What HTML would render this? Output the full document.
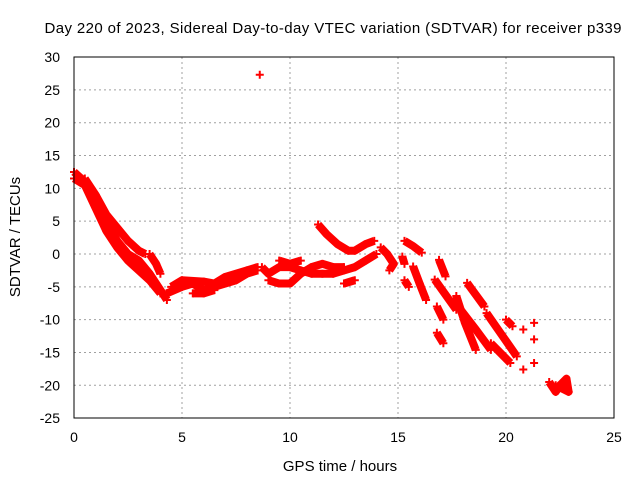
<!DOCTYPE html>
<html><head><meta charset="utf-8"><style>
body{margin:0;background:#fff;}
svg{display:block;font-family:"Liberation Sans",sans-serif;}
</style></head><body>
<svg id="chart" width="640" height="480">
<text x="333" y="33" font-size="15" text-anchor="middle" textLength="577">Day 220 of 2023, Sidereal Day-to-day VTEC variation (SDTVAR) for receiver p339</text>
<text x="340" y="471" font-size="15" text-anchor="middle">GPS time / hours</text>
<text transform="translate(20,237) rotate(-90)" font-size="15" text-anchor="middle">SDTVAR / TECUs</text>
<g id="grid"></g><g id="ticks"></g><g id="marks"></g>
<rect x="74" y="57" width="540" height="361" fill="none" stroke="#000" stroke-width="1"/>
</svg>
<script>
const xTicks=[0,5,10,15,20,25];
const yTicks=[30,25,20,15,10,5,0,-5,-10,-15,-20,-25];
const tracks=[
 [[0,12.5],[0.5,11],[1,8],[1.5,5],[2,2],[2.5,0],[3,-1],[3.5,-3],[4,-5.5],[4.3,-7]],
 [[0,11.5],[0.5,10.5],[1,7],[1.5,3.5],[2,1],[2.5,-1],[3,-2.5],[3.5,-4],[4,-6]],
 [[0.5,11.5],[1,9],[1.5,6],[2,4],[2.5,2],[3,0.5],[3.3,0]],
 [[3.5,0],[3.8,-1.5],[4,-3]],
 [[4.3,-6],[5,-5],[5.5,-4.5],[6,-5.5],[6.5,-5],[7,-4.5],[7.5,-4],[8,-3],[8.5,-2.5]],
 [[4.5,-5],[5,-4],[6,-4.2],[6.5,-4.5],[7,-3.5],[8,-2.5],[8.5,-2]],
 [[5.5,-6],[6,-6],[6.5,-5.5]],
 [[8.7,-2],[9,-3],[9.5,-2],[10,-2],[10.5,-2.5],[11,-3],[11.5,-3],[12,-3],[12.5,-2.5],[13,-2],[13.5,-1],[14,0]],
 [[9,-4],[9.5,-4.5],[10,-4.5],[10.5,-3],[11,-2],[11.5,-1.5],[12,-2],[12.5,-2]],
 [[9.5,-1],[10,-1.5],[10.5,-1]],
 [[11.3,4.5],[11.7,3],[12.2,1.5],[12.7,0.5],[13,0.5],[13.5,1.5],[13.9,2]],
 [[12.5,-4.5],[13,-4]],
 [[14.2,1],[14.5,0],[14.8,-1.5],[14.6,-2.5]],
 [[15.3,2],[15.7,1.2],[16.1,0.2]],
 [[15.7,-1.9],[16,-4.5],[16.3,-7]],
 [[15.2,-0.4],[15.3,-1.5]],[[15.3,-4],[15.5,-5]],
 [[16.9,-0.9],[17.2,-3.4]],
 [[16.7,-3.9],[17.2,-6.2],[17.7,-8.5]],
 [[16.8,-8],[17.1,-10]],
 [[16.8,-12],[17.1,-13.6]],
 [[18.2,-4.4],[18.6,-6.2],[19,-8]],
 [[17.7,-6.4],[18.1,-10.5],[18.6,-14.6]],
 [[17.9,-8.5],[18.6,-11.5],[19.3,-14.6]],
 [[19.1,-9],[19.8,-12.3],[20.5,-15.6]],
 [[19.3,-13.6],[20.2,-16.6]],
 [[20,-10],[20.3,-11]],[[20.8,-11.5]],[[21.3,-10.5]],[[21.3,-13]],[[21.3,-16.6]],[[20.8,-17.6]],
 [[22,-19.5],[22.3,-21],[22.5,-20],[22.8,-19],[22.9,-21],[22.3,-20]],
 [[8.6,27.3]]
];
const X=v=>74+v*21.6, Y=v=>254-v*6.564;
const NS="http://www.w3.org/2000/svg";
const g=document.getElementById('grid'),t=document.getElementById('ticks'),m=document.getElementById('marks');
function mk(tag,a,p){const e=document.createElementNS(NS,tag);for(const k in a)e.setAttribute(k,a[k]);p.appendChild(e);return e;}
xTicks.forEach(v=>{
 if(v>0&&v<25){const l=mk('line',{x1:X(v),x2:X(v),y1:57,y2:418,stroke:'#a0a0a0','stroke-dasharray':'2,3'},g);
 
 }
 const tx=mk('text',{x:X(v),y:442,'font-size':14,'text-anchor':'middle'},t);tx.textContent=v;
 
 
});
yTicks.forEach(v=>{
 if(v<30&&v>-25){const l=mk('line',{x1:74,x2:614,y1:Y(v),y2:Y(v),stroke:'#a0a0a0','stroke-dasharray':'2,3'},g);
 
 }
 const tx=mk('text',{x:60,y:Y(v)+5,'font-size':14,'text-anchor':'end'},t);tx.textContent=v;
 
 
});
tracks.forEach(tr=>{
 if(tr.length>1){const pl=mk('polyline',{points:tr.map(p=>X(p[0])+','+Y(p[1])).join(' '),fill:'none',stroke:'#f00','stroke-width':8,'stroke-linejoin':'round'},m);
 
 }
 tr.forEach(p=>{const x=X(p[0]),y=Y(p[1]);
  const pt=mk('path',{d:`M${x-4},${y}h8M${x},${y-4}v8`,stroke:'#f00','stroke-width':2},m);
  
  });
});
</script>
</body></html>
